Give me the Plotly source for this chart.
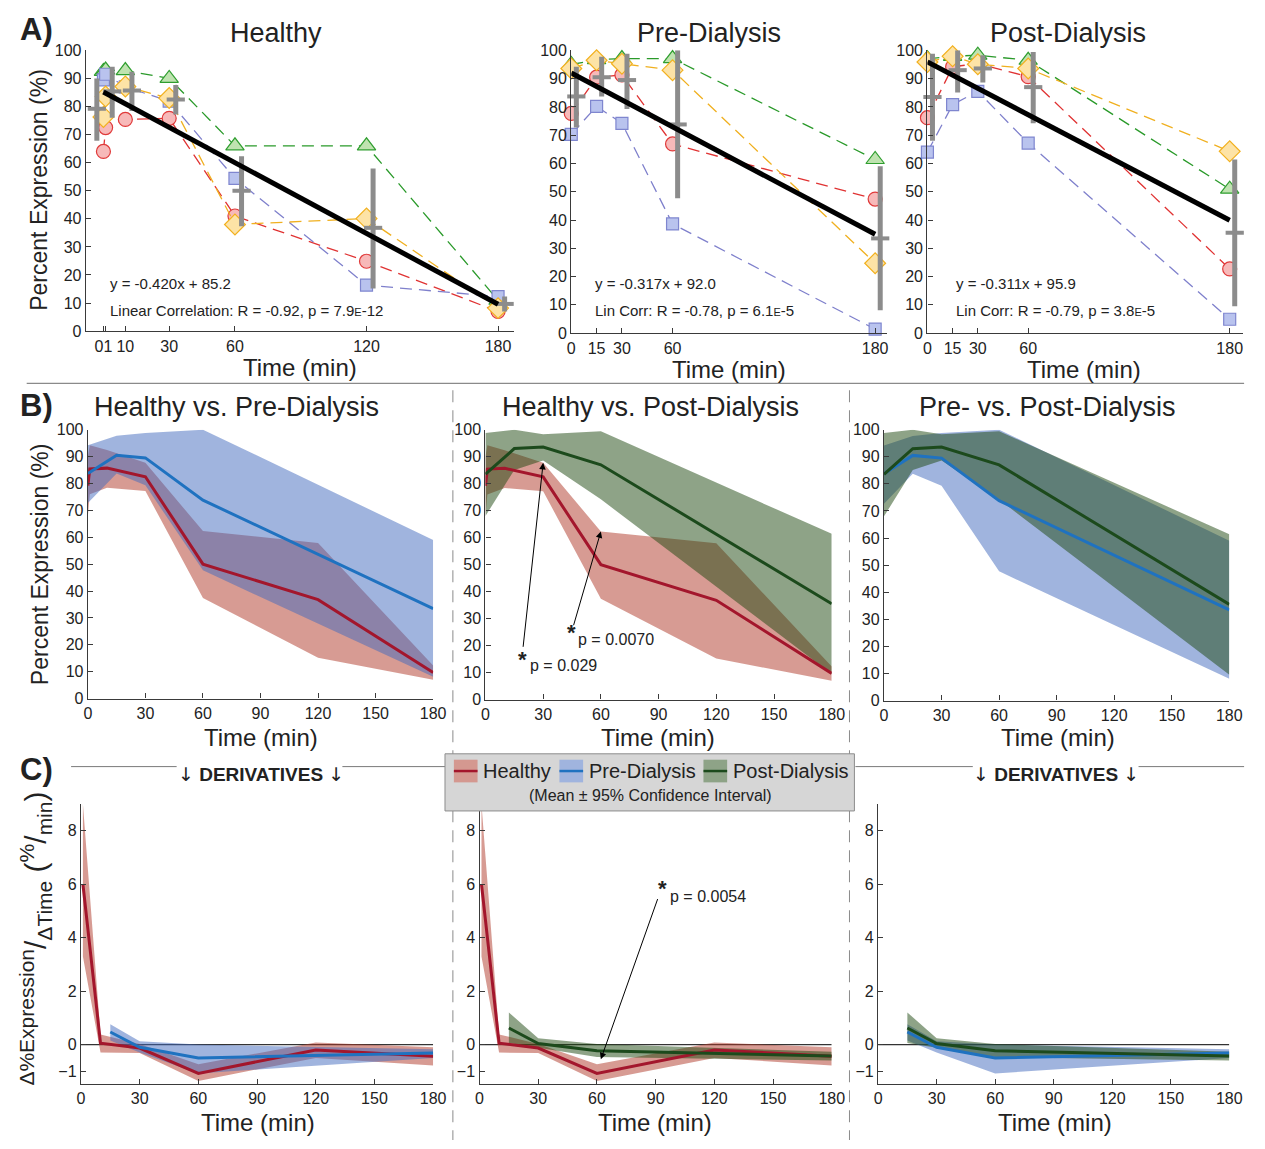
import plotly.graph_objects as go

W, H = 1265, 1149
FONT = "Liberation Sans, Arial, Helvetica, sans-serif"
INK = "#222222"
AXC = "#3a3a3a"

# ---------------- data ----------------
t_healthy = [0, 1, 10, 30, 60, 120, 180]
t_dialysis = [0, 15, 30, 60, 180]

# individual subjects (percent expression)
healthy_red = [64, 72.5, 75.4, 75.8, 41, 24.9, 7]
healthy_green = [92.5, 93, 92.8, 90, 66, 66, 11]
healthy_blue = [89.5, 91.5, 87, 81.9, 54.4, 16.4, 12.3]
healthy_yellow = [76.3, 83.6, 87.1, 83, 38, 40.1, 8.2]

pre_red = [77.7, 90.5, 91.3, 66.9, 47.4]
pre_green = [95, 96.7, 97.1, 97.1, 61.4]
pre_blue = [70.3, 80.2, 74.2, 38.6, 1.4]
pre_yellow = [93.6, 96.5, 95.3, 93, 24.7]

post_red = [76.2, 94.2, 95.3, 90.7, 22.7]
post_green = [97, 97.9, 98.3, 96.5, 50.9]
post_blue = [64, 80.8, 85.5, 67.2, 4.9]
post_yellow = [95.9, 97.9, 95.1, 93.6, 64.3]

# group mean and 95% confidence interval
healthy_mean = [79.2, 85.4, 85.7, 82.5, 50.0, 36.8, 9.7]
healthy_lo = [67.8, 76.0, 78.4, 77.2, 37.4, 15.2, 7.0]
healthy_hi = [90.0, 94.2, 92.4, 87.7, 62.3, 57.9, 12.3]
pre_mean = [83.7, 90.5, 89.5, 73.8, 33.5]
pre_lo = [72.7, 83.7, 79.3, 47.7, 8.1]
pre_hi = [94.2, 97.7, 98.8, 100.0, 59.0]
post_mean = [83.5, 93.0, 93.6, 87.0, 35.5]
post_lo = [68.0, 85.1, 88.6, 74.2, 9.5]
post_hi = [98.8, 100.0, 98.3, 99.4, 61.4]

# linear fits (slope, intercept)
fit_healthy = (-0.420, 85.2)
fit_pre = (-0.317, 92.0)
fit_post = (-0.311, 95.9)

# derivatives (% per min)
dt_healthy = [1, 10, 30, 60, 120, 180]
d_healthy_mean = [6.0, 0.05, -0.13, -1.08, -0.2, -0.44]
d_healthy_lo = [3.3, -0.3, -0.32, -1.36, -0.5, -0.78]
d_healthy_hi = [9.0, 0.38, 0.02, -0.74, 0.08, -0.1]
dt_dialysis = [15, 30, 60, 180]
d_pre_mean = [0.47, -0.1, -0.5, -0.32]
d_pre_lo = [0.15, -0.3, -1.08, -0.5]
d_pre_hi = [0.76, 0.12, 0.0, -0.18]
d_post_mean = [0.62, 0.04, -0.23, -0.43]
d_post_lo = [0.06, -0.12, -0.47, -0.6]
d_post_hi = [1.2, 0.24, 0.02, -0.27]

# the 0 and 1 min ticks sit side by side, so their labels read as one "01"
healthy_ticktext = ["01", "", "10", "30", "60", "120", "180"]
dialysis_ticktext = ["0", "15", "30", "60", "180"]

# ---------------- styles ----------------
SUBJ = {
    "red": dict(line="#e03333", fill="#f7b9b9", edge="#e03a3a", symbol="circle", size=14),
    "green": dict(line="#2a9a2a", fill="#bfe3b0", edge="#2f9e2f", symbol="triangle-up", size=16),
    "blue": dict(line="#7f80cc", fill="#b9c3ee", edge="#7f86cf", symbol="square", size=12),
    "yellow": dict(line="#f0b020", fill="#fde3a6", edge="#f2b01e", symbol="diamond", size=16),
}
GRP = {
    "healthy": dict(line="#a3162c", band="rgba(175,55,40,0.5)", patch="#d49890"),
    "pre": dict(line="#1f72c0", band="rgba(65,105,190,0.5)", patch="#a0b4de"),
    "post": dict(line="#1c4a1c", band="rgba(29,71,15,0.5)", patch="#8ea387"),
}

fig = go.Figure()


def fx(x):
    return x / W


def fy(y):
    return 1 - y / H


def ax_names(i):
    return ("x" if i == 1 else f"x{i}"), ("y" if i == 1 else f"y{i}")


def base_axis(**kw):
    d = dict(showline=True, linecolor=AXC, linewidth=1.4, ticks="inside", ticklen=5,
             tickwidth=1.2, tickcolor=AXC, tickangle=0,
             tickfont=dict(family=FONT, size=16, color=INK),
             showgrid=False, zeroline=False, fixedrange=True)
    d.update(kw)
    return d


# panel boxes in pixels: left, right, top, bottom
panels = {
    1: dict(box=(83, 517, 43, 328), xr=[-8, 187.3], yr=[0, 100], xt=t_healthy, xtt=healthy_ticktext,
            yt=list(range(0, 101, 10))),
    2: dict(box=(575, 895, 43, 330), xr=[0, 187], yr=[0, 100], xt=t_dialysis, xtt=dialysis_ticktext,
            yt=list(range(0, 101, 10))),
    3: dict(box=(936, 1256, 43, 330), xr=[0, 188], yr=[0, 100], xt=t_dialysis, xtt=dialysis_ticktext,
            yt=list(range(0, 101, 10))),
    4: dict(box=(85, 435, 428, 701), xr=[0, 180], yr=[0, 100], xt=list(range(0, 181, 30)), xtt=None,
            yt=list(range(0, 101, 10))),
    5: dict(box=(488, 839, 428, 702), xr=[0, 180], yr=[0, 100], xt=list(range(0, 181, 30)), xtt=None,
            yt=list(range(0, 101, 10))),
    6: dict(box=(892, 1242, 428, 703), xr=[0, 180], yr=[0, 100], xt=list(range(0, 181, 30)), xtt=None,
            yt=list(range(0, 101, 10))),
    7: dict(box=(78, 435, 808, 1092), xr=[0, 180], yr=[-1.47, 9], xt=list(range(0, 181, 30)), xtt=None,
            yt=[-1, 0, 2, 4, 6, 8]),
    8: dict(box=(482, 839, 808, 1092), xr=[0, 180], yr=[-1.47, 9], xt=list(range(0, 181, 30)), xtt=None,
            yt=[-1, 0, 2, 4, 6, 8]),
    9: dict(box=(886, 1242, 808, 1092), xr=[0, 180], yr=[-1.47, 9], xt=list(range(0, 181, 30)), xtt=None,
            yt=[-1, 0, 2, 4, 6, 8]),
}

layout_axes = {}
for i, p in panels.items():
    xa, ya = ax_names(i)
    l, r, t, b = p["box"]
    xkey = "xaxis" if i == 1 else f"xaxis{i}"
    ykey = "yaxis" if i == 1 else f"yaxis{i}"
    xd = base_axis(domain=[fx(l), fx(r)], range=p["xr"], anchor=ya, tickmode="array", tickvals=p["xt"])
    if p["xtt"] is not None:
        xd["ticktext"] = p["xtt"]
    yd = base_axis(domain=[fy(b), fy(t)], range=p["yr"], anchor=xa, tickmode="array", tickvals=p["yt"])
    layout_axes[xkey] = xd
    layout_axes[ykey] = yd


# ---------------- panel A: subjects, mean +/- CI, linear fit ----------------
def subject(i, t, vals, key):
    s = SUBJ[key]
    xa, ya = ax_names(i)
    fig.add_trace(go.Scatter(
        x=t, y=vals, mode="lines+markers", xaxis=xa, yaxis=ya, cliponaxis=False,
        line=dict(color=s["line"], width=1.3, dash="12px,7px"),
        marker=dict(symbol=s["symbol"], size=s["size"], color=s["fill"],
                    line=dict(color=s["edge"], width=1.2)),
        hoverinfo="skip"))


def mean_bars(i, t, mean, lo, hi, shifts):
    xa, ya = ax_names(i)
    bx, by = [], []
    xs = [tt + sh for tt, sh in zip(t, shifts)]
    for x, a, b in zip(xs, lo, hi):
        bx += [x, x, None]
        by += [a, b, None]
    fig.add_trace(go.Scatter(x=bx, y=by, mode="lines", xaxis=xa, yaxis=ya, cliponaxis=False,
                             line=dict(color="#8c8c8c", width=5), hoverinfo="skip"))
    fig.add_trace(go.Scatter(x=xs, y=mean, mode="markers", xaxis=xa, yaxis=ya, cliponaxis=False,
                             marker=dict(symbol="line-ew", size=13, color="#8c8c8c",
                                         line=dict(color="#8c8c8c", width=4)),
                             hoverinfo="skip"))


def fit_line(i, fit, t0, t1):
    xa, ya = ax_names(i)
    m, b = fit
    fig.add_trace(go.Scatter(x=[t0, t1], y=[m * t0 + b, m * t1 + b], mode="lines", xaxis=xa, yaxis=ya,
                             cliponaxis=False, line=dict(color="black", width=5), hoverinfo="skip"))


for i, t, groups, stats, shifts, fit in [
    (1, t_healthy, [healthy_red, healthy_green, healthy_blue, healthy_yellow],
     (healthy_mean, healthy_lo, healthy_hi), [-3, 3, 3, 3, 3, 3, 3], fit_healthy),
    (2, t_dialysis, [pre_red, pre_green, pre_blue, pre_yellow],
     (pre_mean, pre_lo, pre_hi), [3, 3, 3, 3, 3], fit_pre),
    (3, t_dialysis, [post_red, post_green, post_blue, post_yellow],
     (post_mean, post_lo, post_hi), [3, 3, 3, 3, 3], fit_post),
]:
    for vals, key in zip(groups, ["red", "green", "blue", "yellow"]):
        subject(i, t, vals, key)
    mean_bars(i, t, *stats, shifts)
    fit_line(i, fit, 0, 180)


# ---------------- panels B and C: mean with CI band ----------------
def band(i, t, lo, hi, key):
    xa, ya = ax_names(i)
    fig.add_trace(go.Scatter(x=list(t) + list(t)[::-1], y=list(hi) + list(lo)[::-1], mode="lines",
                             fill="toself", fillcolor=GRP[key]["band"], line=dict(width=0),
                             xaxis=xa, yaxis=ya, hoverinfo="skip"))


def mean_line(i, t, m, key):
    xa, ya = ax_names(i)
    fig.add_trace(go.Scatter(x=t, y=m, mode="lines", line=dict(color=GRP[key]["line"], width=3),
                             xaxis=xa, yaxis=ya, hoverinfo="skip"))


H_ = (t_healthy, healthy_mean, healthy_lo, healthy_hi, "healthy")
P_ = (t_dialysis, pre_mean, pre_lo, pre_hi, "pre")
Q_ = (t_dialysis, post_mean, post_lo, post_hi, "post")
dH = (dt_healthy, d_healthy_mean, d_healthy_lo, d_healthy_hi, "healthy")
dP = (dt_dialysis, d_pre_mean, d_pre_lo, d_pre_hi, "pre")
dQ = (dt_dialysis, d_post_mean, d_post_lo, d_post_hi, "post")

for i, (g1, g2) in {4: (H_, P_), 5: (H_, Q_), 6: (P_, Q_), 7: (dH, dP), 8: (dH, dQ), 9: (dP, dQ)}.items():
    for g in (g1, g2):
        band(i, g[0], g[2], g[3], g[4])
    for g in (g1, g2):
        mean_line(i, g[0], g[1], g[4])

# ---------------- shapes ----------------
shapes = []
# zero reference lines in the derivative panels
for i in (7, 8, 9):
    xa, ya = ax_names(i)
    shapes.append(dict(type="line", xref=xa, yref=ya, x0=0, x1=180, y0=0, y1=0, layer="below",
                       line=dict(color="#333333", width=1.3)))

# section separators
shapes.append(dict(type="line", xref="paper", yref="paper", x0=fx(23), x1=fx(1257), y0=fy(381), y1=fy(381),
                   line=dict(color="#8a8a8a", width=1.2)))
for xv in (455, 857):
    shapes.append(dict(type="line", xref="paper", yref="paper", x0=fx(xv), x1=fx(xv), y0=fy(388), y1=fy(1149),
                       line=dict(color="#8a8a8a", width=1, dash="12px,8px")))
for a, b in [(68, 175), (343, 447), (863, 982), (1150, 1257)]:
    shapes.append(dict(type="line", xref="paper", yref="paper", x0=fx(a), x1=fx(b), y0=fy(770), y1=fy(770),
                       line=dict(color="#7a7a7a", width=1)))

# legend box
shapes.append(dict(type="rect", xref="paper", yref="paper", x0=fx(447), x1=fx(862), y0=fy(815), y1=fy(757),
                   fillcolor="#d6d6d6", line=dict(color="#8c8c8c", width=1)))
legend_items = [("healthy", 456, "Healthy"), ("pre", 563, "Pre-Dialysis"), ("post", 709, "Post-Dialysis")]
for key, x0, _ in legend_items:
    shapes.append(dict(type="rect", xref="paper", yref="paper", x0=fx(x0), x1=fx(x0 + 24), y0=fy(786),
                       y1=fy(763), fillcolor=GRP[key]["patch"], line=dict(width=0)))
    shapes.append(dict(type="line", xref="paper", yref="paper", x0=fx(x0), x1=fx(x0 + 24), y0=fy(774.5),
                       y1=fy(774.5), line=dict(color=GRP[key]["line"], width=2.5)))

# ---------------- text ----------------
ann = []


def label(text, x, y, size, xanchor="center", yanchor="middle", angle=0, color=INK):
    ann.append(dict(text=text, x=fx(x), y=fy(y), xref="paper", yref="paper", showarrow=False,
                    xanchor=xanchor, yanchor=yanchor, textangle=angle,
                    font=dict(family=FONT, size=size, color=color)))


# panel letters
label("<b>A)</b>", 14, 22, 31, xanchor="left")
label("<b>B)</b>", 14, 403, 31, xanchor="left")
label("<b>C)</b>", 14, 773, 31, xanchor="left")

# titles
for txt, x, y in [("Healthy", 276, 25), ("Pre-Dialysis", 715, 25), ("Post-Dialysis", 1079, 25),
                  ("Healthy vs. Pre-Dialysis", 236, 405), ("Healthy vs. Post-Dialysis", 655, 405),
                  ("Pre- vs. Post-Dialysis", 1058, 405)]:
    label(txt, x, y, 27)

# x axis titles
for x, y in [(300, 365), (735, 367), (1095, 367), (260, 740), (663, 740), (1068, 740),
             (257, 1131), (660, 1131), (1065, 1131)]:
    label("Time (min)", x, y, 24)

# y axis titles
label("Percent Expression (%)", 36, 185, 23, angle=-90)
label("Percent Expression (%)", 36, 565, 23, angle=-90)
label("<sup>\u0394%Expression</sup>/<sub>\u0394Time</sub> (<sup>%</sup>/<sub>min</sub>)", 32, 945, 30, angle=-90)

# regression statistics
SMALL_E = "<span style='font-size:11px'>E</span>"
label("y = -0.420x + 85.2", 105, 280, 15, xanchor="left")
label(f"Linear Correlation: R = -0.92, p = 7.9{SMALL_E}-12", 105, 307, 15, xanchor="left")
label("y = -0.317x + 92.0", 597, 280, 15, xanchor="left")
label(f"Lin Corr: R = -0.78, p = 6.1{SMALL_E}-5", 597, 307, 15, xanchor="left")
label("y = -0.311x + 95.9", 963, 280, 15, xanchor="left")
label(f"Lin Corr: R = -0.79, p = 3.8{SMALL_E}-5", 963, 307, 15, xanchor="left")

# derivatives headers
ARROW = "<span style='font-family:DejaVu Sans;font-weight:normal'>\u2193</span>"
label(f"{ARROW} <b>DERIVATIVES</b> {ARROW}", 260, 778, 19)
label(f"{ARROW} <b>DERIVATIVES</b> {ARROW}", 1066, 778, 19)

# legend text
for key, x0, txt in legend_items:
    label(txt, x0 + 28, 774, 20, xanchor="left")
label("(Mean \u00b1 95% Confidence Interval)", 655, 799, 16)

# significance markers
for (sx, sy), (tx, ty), ptxt in [((526, 661), (531, 667), "p = 0.029"),
                                 ((575, 634), (580, 641), "p = 0.0070"),
                                 ((667, 894), (673, 902), "p = 0.0054")]:
    label("<b>*</b>", sx, sy, 22)
    label(ptxt, tx, ty, 16, xanchor="left")


def arrow(i, hx, hy, tx, ty):
    xa, ya = ax_names(i)
    ann.append(dict(text="", x=hx, y=hy, xref=xa, yref=ya, ax=tx, ay=ty, axref=xa, ayref=ya,
                    showarrow=True, arrowhead=2, arrowsize=1.3, arrowwidth=1, arrowcolor="black",
                    standoff=0, startstandoff=0))


arrow(5, t_healthy[3], healthy_hi[3], 19.5, 19)
arrow(5, t_healthy[4], healthy_hi[4], 45.6, 27)
arrow(8, 62, -0.55, 91.3, 5.5)

fig.update_layout(
    width=W, height=H, margin=dict(l=0, r=0, t=0, b=0),
    paper_bgcolor="white", plot_bgcolor="rgba(0,0,0,0)",
    showlegend=False, shapes=shapes, annotations=ann,
    font=dict(family=FONT, color=INK),
    **layout_axes,
)

fig.write_html("out.html")
